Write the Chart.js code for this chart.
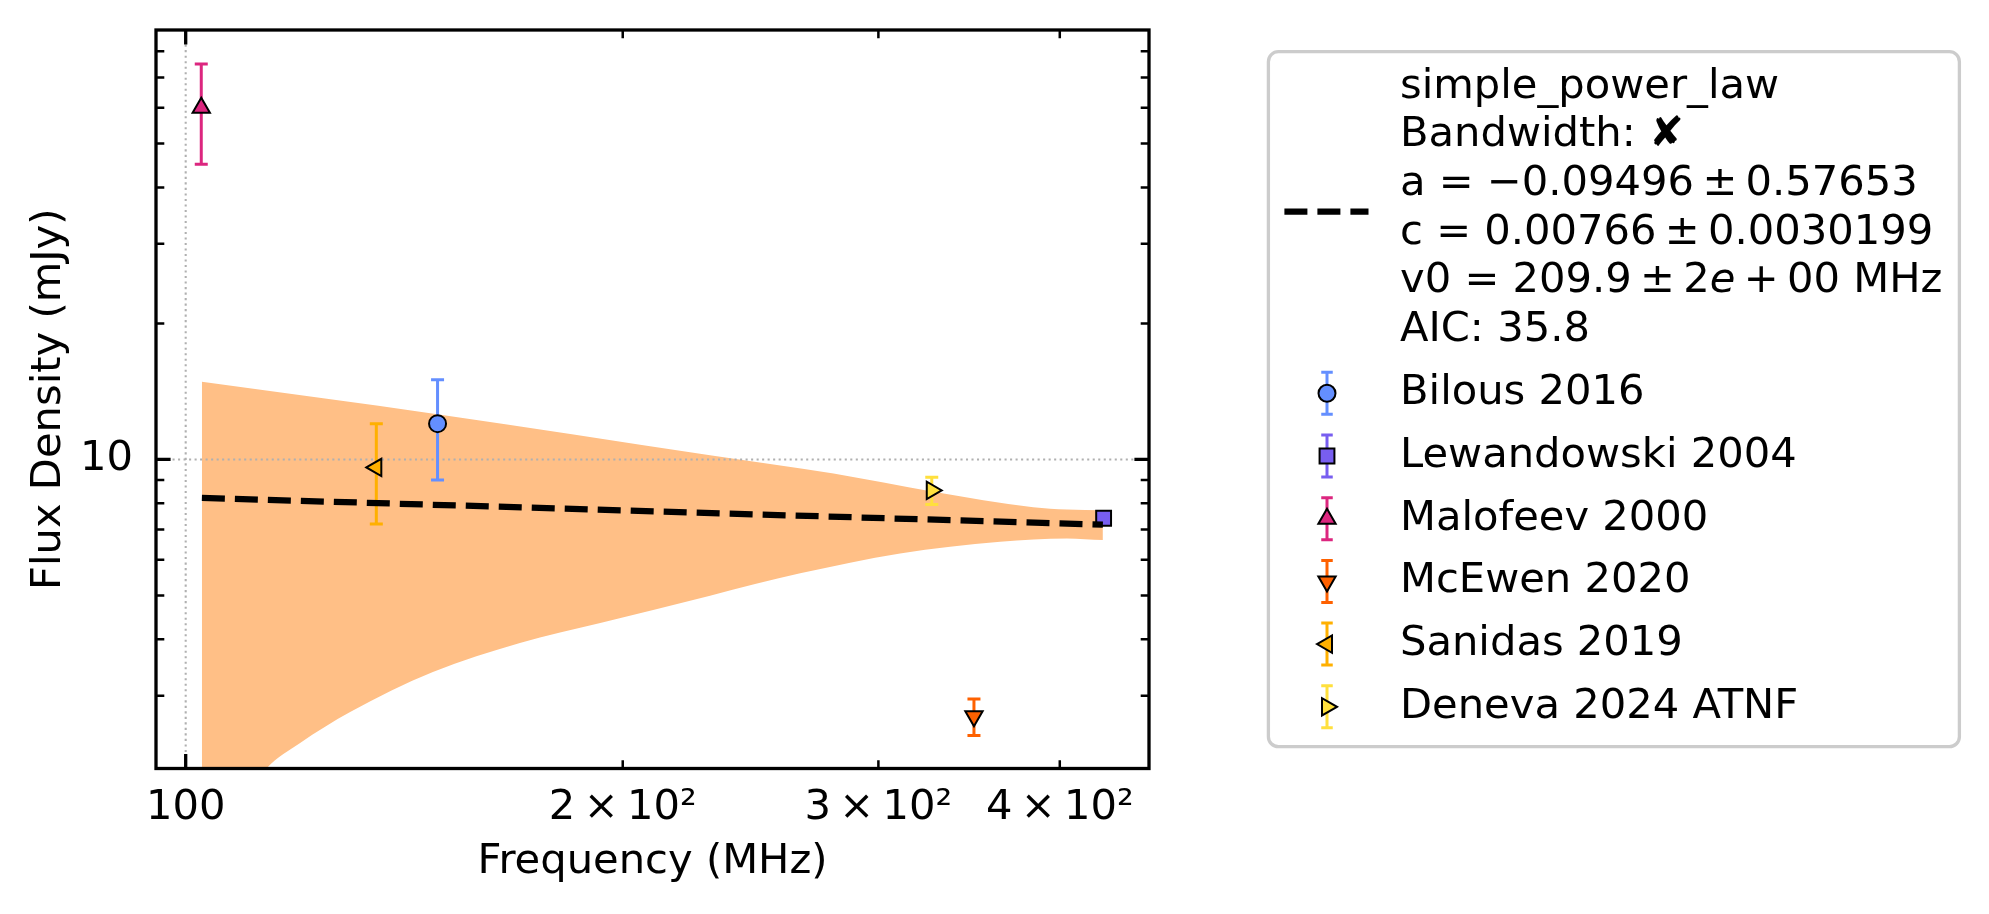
<!DOCTYPE html>
<html>
<head>
<meta charset="utf-8">
<script src="https://cdn.jsdelivr.net/npm/chart.js@4.4.1/dist/chart.umd.min.js"></script>
<style>
html,body{margin:0;padding:0;background:#ffffff;}
canvas{display:block;}
</style>
</head>
<body>
<canvas id="c" width="1989" height="914" style="width:1989px;height:914px"></canvas>
<script>
// ---------------- data ----------------
const seriesNames   = ['Bilous 2016', 'Lewandowski 2004', 'Malofeev 2000', 'McEwen 2020', 'Sanidas 2019', 'Deneva 2024 ATNF'];
const seriesFreq    = [149.1, 428.8, 102.5, 349.1, 135.3, 326.5];
const seriesFlux    = [12.0, 7.41, 60.0, 2.70, 9.6, 8.54];
const seriesErr     = [3.0, 0.2, 15.0, 0.25, 2.4, 0.59];
const seriesColors  = ['#648FFF', '#785EF0', '#DC267F', '#FE6100', '#FFB000', '#FFE03D'];
const seriesMarkers = ['circle', 'rect', 'triangle', 'triangle', 'triangle', 'triangle'];
const seriesRotation = [0, 0, 0, 180, 270, 90];

const fitFreq = [102.6, 428.3];
const fitFlux = [8.22, 7.17];

const bandUpperFreq = [102.6, 149.0, 229.7, 279.4, 327.4, 383.5, 404.6, 428.3];
const bandUpperFlux = [14.85, 12.59, 10.22, 9.31, 8.48, 7.84, 7.75, 7.72];
const bandLowerFreq = [102.6, 113.7, 119.9, 129.8, 148.0, 169.9, 193.0, 229.7, 265.0, 310.5, 363.9, 404.6, 428.3];
const bandLowerFlux = [1.3, 2.072, 2.357, 2.760, 3.384, 3.924, 4.344, 4.995, 5.596, 6.194, 6.572, 6.687, 6.630];

const xTickValues = [100, 200, 300, 400];
const xTickLabels = ['100', '2\u2009\u00d7\u200910\u00b2', '3\u2009\u00d7\u200910\u00b2', '4\u2009\u00d7\u200910\u00b2'];
const xMajorTicks = [100];
const xMinorTicks = [200, 300, 400];
const yTickValues = [10];
const yTickLabels = ['10'];
const yMajorTicks = [10];
const yMinorTicks = [3, 4, 5, 6, 7, 8, 9, 20, 30, 40, 50, 60, 70, 80];

const xRange = [95.4, 460.8];
const yRange = [2.07, 89.2];

const fitLegendLines = [
  [['simple_power_law', false]],
  [['Bandwidth: \u2718', false]],
  [['a = \u22120.09496\u2009\u00b1\u20090.57653', false]],
  [['c = 0.00766\u2009\u00b1\u20090.0030199', false]],
  [['v0 = 209.9\u2009\u00b1\u20092', false], ['e', true], ['\u2009+\u200900 MHz', false]],
  [['AIC: 35.8', false]]
];

// ---------------- style ----------------
const FAMILY = "'DejaVu Sans'";
const FS = 41.67;
const BAND_COLOR = '#FFBF86';
const markerRadius = {circle: 8.5, rect: 10.5, triangle: 10};

Chart.defaults.font.family = FAMILY;
Chart.defaults.color = '#000000';

function drawMarker(ctx, style, rot, r, x, y, fill) {
  ctx.save();
  ctx.fillStyle = fill;
  ctx.strokeStyle = '#000000';
  ctx.lineWidth = 2;
  ctx.beginPath();
  if (style === 'circle') {
    ctx.arc(x, y, r, 0, Math.PI * 2);
  } else if (style === 'rect') {
    const s = r * Math.SQRT1_2;
    ctx.rect(x - s, y - s, 2 * s, 2 * s);
  } else {
    let rad = rot * Math.PI / 180;
    ctx.moveTo(x + Math.sin(rad) * r, y - Math.cos(rad) * r);
    rad += 2 * Math.PI / 3;
    ctx.lineTo(x + Math.sin(rad) * r, y - Math.cos(rad) * r);
    rad += 2 * Math.PI / 3;
    ctx.lineTo(x + Math.sin(rad) * r, y - Math.cos(rad) * r);
    ctx.closePath();
  }
  ctx.fill();
  ctx.stroke();
  ctx.restore();
}

function drawErrBar(ctx, color, x, top, bot, cap) {
  ctx.save();
  ctx.strokeStyle = color;
  ctx.lineWidth = 3;
  ctx.beginPath();
  ctx.moveTo(x, top); ctx.lineTo(x, bot);
  ctx.moveTo(x - cap, top); ctx.lineTo(x + cap, top);
  ctx.moveTo(x - cap, bot); ctx.lineTo(x + cap, bot);
  ctx.stroke();
  ctx.restore();
}

// ---------------- datasets ----------------
const datasets = [];
seriesNames.forEach((name, i) => {
  datasets.push({
    label: name,
    data: [{x: seriesFreq[i], y: seriesFlux[i]}],
    errors: [seriesErr[i]],
    errColor: seriesColors[i],
    showLine: false,
    pointStyle: seriesMarkers[i],
    pointRotation: seriesRotation[i],
    pointRadius: markerRadius[seriesMarkers[i]],
    pointBackgroundColor: seriesColors[i],
    pointBorderColor: '#000000',
    pointBorderWidth: 2,
    order: 1
  });
});
datasets.push({
  label: 'fit',
  data: fitFreq.map((f, i) => ({x: f, y: fitFlux[i]})),
  showLine: true,
  borderColor: '#000000',
  borderWidth: 6.25,
  borderDash: [23, 10],
  borderCapStyle: 'butt',
  pointRadius: 0,
  fill: false,
  order: 0
});
datasets.push({
  label: 'bandUpper',
  data: bandUpperFreq.map((f, i) => ({x: f, y: bandUpperFlux[i]})),
  showLine: true,
  borderWidth: 0,
  borderColor: 'rgba(0,0,0,0)',
  backgroundColor: BAND_COLOR,
  pointRadius: 0,
  cubicInterpolationMode: 'monotone',
  fill: '+1',
  order: 10,
  isBand: true
});
datasets.push({
  label: 'bandLower',
  data: bandLowerFreq.map((f, i) => ({x: f, y: bandLowerFlux[i]})),
  showLine: true,
  borderWidth: 0,
  borderColor: 'rgba(0,0,0,0)',
  pointRadius: 0,
  cubicInterpolationMode: 'monotone',
  fill: false,
  order: 10
});

// ---------------- plugins ----------------
const axesPlugin = {
  id: 'mplAxes',
  beforeDatasetDraw(chart, args) {
    const ds = chart.data.datasets[args.index];
    if (!ds.errors) return;
    const xs = chart.scales.x, ys = chart.scales.y;
    ds.data.forEach((p, i) => {
      const e = ds.errors[i];
      const px = xs.getPixelForValue(p.x);
      drawErrBar(chart.ctx, ds.errColor, px, ys.getPixelForValue(p.y + e), ys.getPixelForValue(p.y - e), 6.5);
    });
  },
  afterDatasetDraw(chart, args) {
    const ds = chart.data.datasets[args.index];
    if (!ds.isBand) return;
    const ctx = chart.ctx, a = chart.chartArea, xs = chart.scales.x, ys = chart.scales.y;
    ctx.save();
    ctx.strokeStyle = '#b0b0b0';
    ctx.lineWidth = 2.08;
    ctx.setLineDash([2.08, 3.43]);
    ctx.beginPath();
    xMajorTicks.forEach(v => { const px = xs.getPixelForValue(v); ctx.moveTo(px, a.bottom); ctx.lineTo(px, a.top); });
    yMajorTicks.forEach(v => { const py = ys.getPixelForValue(v); ctx.moveTo(a.left, py); ctx.lineTo(a.right, py); });
    ctx.stroke();
    ctx.restore();
  },
  afterDatasetsDraw(chart) {
    const ctx = chart.ctx, a = chart.chartArea, xs = chart.scales.x, ys = chart.scales.y;
    ctx.save();
    ctx.strokeStyle = '#000000';
    const tick = (vals, len, w) => {
      ctx.lineWidth = w;
      ctx.beginPath();
      vals.x.forEach(v => {
        const px = xs.getPixelForValue(v);
        ctx.moveTo(px, a.bottom); ctx.lineTo(px, a.bottom - len);
        ctx.moveTo(px, a.top); ctx.lineTo(px, a.top + len);
      });
      vals.y.forEach(v => {
        const py = ys.getPixelForValue(v);
        ctx.moveTo(a.left, py); ctx.lineTo(a.left + len, py);
        ctx.moveTo(a.right, py); ctx.lineTo(a.right - len, py);
      });
      ctx.stroke();
    };
    tick({x: xMajorTicks, y: yMajorTicks}, 14.6, 3.3);
    tick({x: xMinorTicks, y: yMinorTicks}, 8.3, 2.5);
    ctx.lineWidth = 3.3;
    ctx.strokeRect(a.left, a.top, a.right - a.left, a.bottom - a.top);
    ctx.restore();
  },
  afterDraw(chart) {
    const ctx = chart.ctx;
    ctx.save();
    ctx.beginPath();
    ctx.roundRect(1268.4, 51.7, 691, 695, 10);
    ctx.fillStyle = 'rgba(255,255,255,0.8)';
    ctx.fill();
    ctx.lineWidth = 3.3;
    ctx.strokeStyle = '#cccccc';
    ctx.stroke();

    ctx.strokeStyle = '#000000';
    ctx.lineWidth = 6.25;
    ctx.setLineDash([23, 10]);
    ctx.beginPath();
    ctx.moveTo(1284.4, 211.7); ctx.lineTo(1368.5, 211.7);
    ctx.stroke();
    ctx.setLineDash([]);

    ctx.fillStyle = '#000000';
    ctx.textBaseline = 'middle';
    ctx.textAlign = 'left';
    fitLegendLines.forEach((segs, i) => {
      let x = 1400;
      const y = 86.7 + 48.7 * i;
      segs.forEach(([txt, it]) => {
        ctx.font = (it ? 'italic ' : '') + FS + 'px ' + FAMILY;
        ctx.fillText(txt, x, y);
        x += ctx.measureText(txt).width;
      });
    });

    seriesNames.forEach((name, i) => {
      const y = 393.3 + 62.7 * i;
      drawErrBar(ctx, seriesColors[i], 1327, y - 21, y + 21, 5.75);
      drawMarker(ctx, seriesMarkers[i], seriesRotation[i], markerRadius[seriesMarkers[i]], 1327, y, seriesColors[i]);
      ctx.fillStyle = '#000000';
      ctx.font = FS + 'px ' + FAMILY;
      ctx.fillText(name, 1400, y);
    });
    ctx.restore();
  }
};

// ---------------- chart ----------------
new Chart(document.getElementById('c'), {
  type: 'line',
  data: {datasets},
  options: {
    responsive: false,
    devicePixelRatio: 1,
    animation: false,
    events: [],
    layout: {padding: {left: 0, right: 840, top: 30, bottom: 0}},
    plugins: {legend: {display: false}, tooltip: {enabled: false}},
    scales: {
      x: {
        type: 'logarithmic',
        position: 'bottom',
        min: xRange[0], max: xRange[1],
        bounds: 'data',
        grid: {display: false},
        border: {display: false},
        afterBuildTicks: s => { s.ticks = xTickValues.map(v => ({value: v})); },
        afterFit: s => { s.height = 145.5; s.paddingLeft = 0; s.paddingRight = 0; s.paddingTop = 0; s.paddingBottom = 0; },
        ticks: {
          autoSkip: false, maxRotation: 0, minRotation: 0, padding: 7,
          color: '#000000', font: {family: FAMILY, size: FS},
          callback: v => { const i = xTickValues.indexOf(v); return i >= 0 ? xTickLabels[i] : ''; }
        },
        title: {display: true, text: 'Frequency (MHz)', color: '#000000', font: {family: FAMILY, size: FS}, padding: {top: 0, bottom: 27}}
      },
      y: {
        type: 'logarithmic',
        position: 'left',
        min: yRange[0], max: yRange[1],
        bounds: 'data',
        grid: {display: false},
        border: {display: false},
        afterBuildTicks: s => { s.ticks = yTickValues.map(v => ({value: v})); },
        afterFit: s => { s.width = 156; s.paddingTop = 0; s.paddingBottom = 0; s.paddingLeft = 0; s.paddingRight = 0; },
        ticks: {
          autoSkip: false, padding: 15,
          color: '#000000', font: {family: FAMILY, size: FS},
          callback: v => { const i = yTickValues.indexOf(v); return i >= 0 ? yTickLabels[i] : ''; }
        },
        title: {display: true, text: 'Flux Density (mJy)', color: '#000000', font: {family: FAMILY, size: FS}, padding: {top: 24.5, bottom: 0}}
      }
    }
  },
  plugins: [axesPlugin]
});
</script>
</body>
</html>
